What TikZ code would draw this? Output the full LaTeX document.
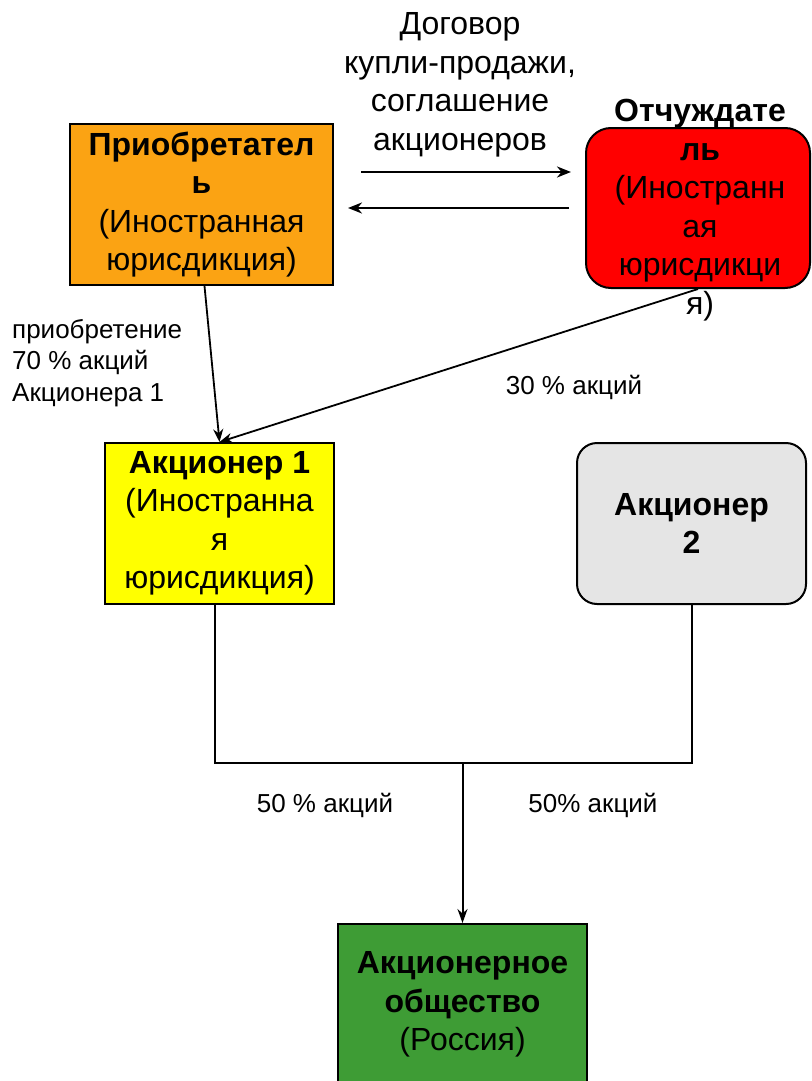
\documentclass[tikz,border=0pt]{standalone}
\usepackage{fontspec}
\setmainfont{Liberation Sans}
\usetikzlibrary{arrows.meta}
\definecolor{cOrange}{HTML}{FBA313}
\definecolor{cRed}{HTML}{FF0000}
\definecolor{cYellow}{HTML}{FFFF00}
\definecolor{cGray}{HTML}{E5E5E5}
\definecolor{cGreen}{HTML}{3E9C35}
\tikzset{
  box/.style={draw=black, line width=2pt, minimum width=#1, inner sep=0pt, align=center,
    font=\fontsize{32}{38.5}\selectfont},
  boxtext/.style={inner sep=0pt, align=center, font=\fontsize{32}{38.5}\selectfont},
  lbl/.style={inner sep=0pt, font=\fontsize{26}{31.5}\selectfont},
  conn/.style={line width=1.8pt, -{Stealth[length=13pt,width=10pt]}},
  thick conn/.style={line width=2.4pt, -{Stealth[length=14pt,width=11pt]}},
}
\begin{document}
\begin{tikzpicture}[x=1pt,y=-1pt]
\useasboundingbox (0,0) rectangle (811,1081);
% boxes
\node[box=263, fill=cOrange, minimum height=161] (buyer) at (201.5,204.5)
  {\textbf{Приобретател}\\\textbf{ь}\\(Иностранная\\юрисдикция)};
\node[box=224, fill=cRed, minimum height=160, rounded corners=25pt] (seller) at (698,208) {};
\node[boxtext] (sellertext) at (700,210)
  {\textbf{Отчуждате}\\\textbf{ль}\\(Иностранн\\ая\\юрисдикци\\я)};
\node[box=229, fill=cYellow, minimum height=161] (sh1) at (219.5,523.5)
  {\textbf{Акционер 1}\\(Иностранна\\я\\юрисдикция)};
\node[box=229, fill=cGray, minimum height=161, rounded corners=20pt] (sh2) at (691.5,523.5)
  {\textbf{Акционер}\\\textbf{2}};
\node[box=249, fill=cGreen, minimum height=161] (jsc) at (462.5,1004.5)
  {\textbf{Акционерное}\\\textbf{общество}\\(Россия)};
% labels
\node[boxtext] (contract) at (460,85) {Договор\\купли-продажи,\\соглашение\\акционеров};
\node[lbl, anchor=west, align=left] (acq) at (12,363) {приобретение\\70 \% акций\\Акционера 1};
\node[lbl] (l30) at (574,387) {30 \% акций};
\node[lbl] (l50a) at (325,805) {50 \% акций};
\node[lbl] (l50b) at (593,805) {50\% акций};
% connectors
\draw[thick conn] ([xshift=27pt,yshift=32.5pt]buyer.east) -- ([xshift=-14pt,yshift=32.5pt]buyer.east -| seller.west);
\draw[thick conn] ([xshift=-16pt,yshift=-3.5pt]buyer.east -| seller.west) -- ([xshift=14pt,yshift=-3.5pt]buyer.east);
\draw[conn] ([xshift=3pt]buyer.south) -- (sh1.north);
\draw[conn] (seller.south) -- (sh1.north);
\coordinate (j) at (462.5,763);
\draw[line width=2pt] ([xshift=-4.5pt]sh1.south) |- (j) -| (sh2.south);
\draw[line width=2pt, -{Stealth[length=14pt,width=10pt]}] (j) -- (jsc.north);
\end{tikzpicture}
\end{document}
